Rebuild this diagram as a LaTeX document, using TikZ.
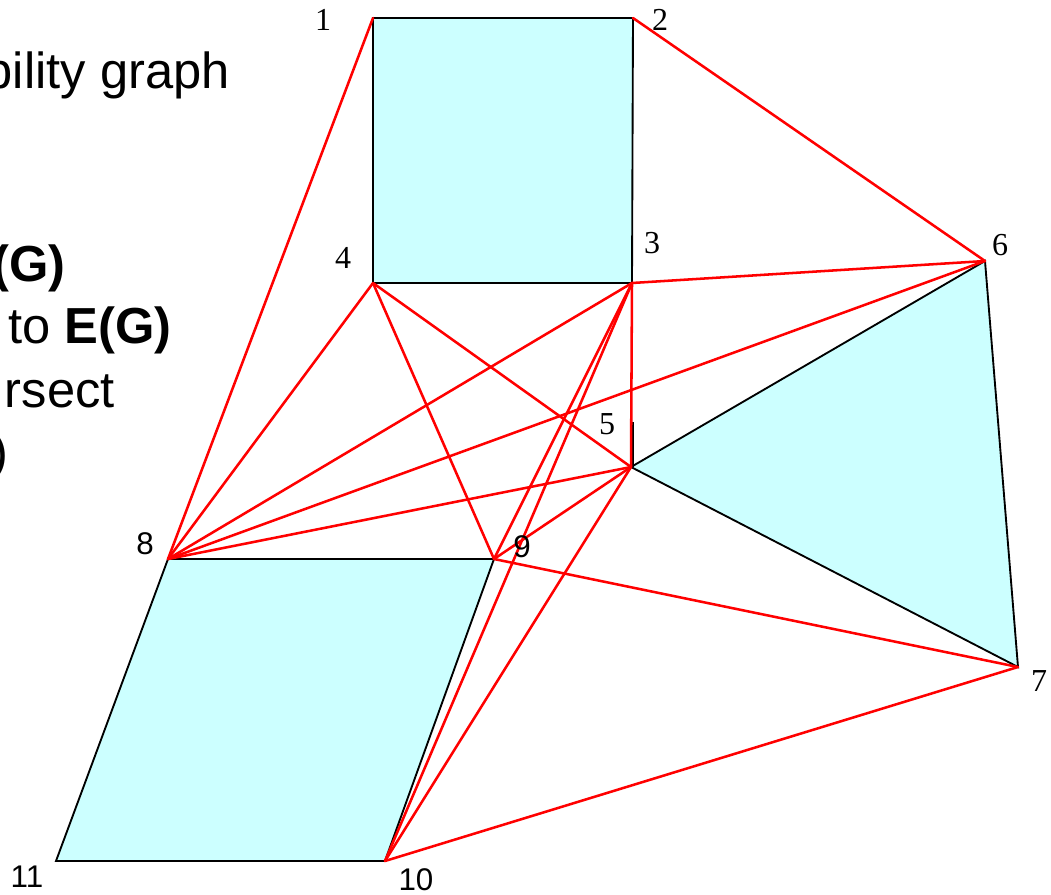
\documentclass[tikz,border=0pt]{standalone}
\usepackage{fontspec}
\setmainfont{Liberation Sans}
\newfontfamily\serifnum{Liberation Serif}
\definecolor{obst}{HTML}{CCFFFF}
\begin{document}
\begin{tikzpicture}[x=0.75pt,y=-0.75pt,
  obstacle/.style={fill=obst,draw=black,line width=1.4pt,line join=miter},
  visedge/.style={draw=red,line width=1.9pt,line cap=round},
  slabel/.style={inner sep=0pt,font=\serifnum\fontsize{24}{26}\selectfont},
  alabel/.style={inner sep=0pt,font=\fontsize{23.5}{25}\selectfont},
  bodytext/.style={inner sep=0pt,anchor=base east,font=\fontsize{38}{42}\selectfont}]
\useasboundingbox (0,0) rectangle (1051,894);
\clip (0,0) rectangle (1051,894);
% vertices
\coordinate (v1) at (373,18);
\coordinate (v2) at (633,18);
\coordinate (v3) at (632,283);
\coordinate (v4) at (373,283);
\coordinate (v5) at (631,467);
\coordinate (v6) at (985,261);
\coordinate (v7) at (1018,667);
\coordinate (v8) at (168,559);
\coordinate (v9) at (494,559);
\coordinate (v10) at (385,861);
\coordinate (v11) at (56,861);
\coordinate (v5t) at (633,422);
\coordinate (v5b) at (633,467);
% left text (cut off slide text)
\node[bodytext] (t1) at (230,88) {bility graph};
\node[bodytext] (t2) at (66,281) {\textbf{(G)}};
\node[bodytext] (t3) at (172,343) {to \textbf{E(G)}};
\node[bodytext] (t4) at (115,407) {rsect};
\node[bodytext] (t5) at (9,469) {)};
% obstacles
\draw[obstacle] (v1) -- (v2) -- (v3) -- (v4) -- cycle;
\draw[obstacle] (v5) -- (v6) -- (v7) -- cycle;
\draw[obstacle] (v8) -- (v9) -- (v10) -- (v11) -- cycle;
\draw[black,line width=1.4pt] (v5t) -- (v5b);
% visibility edges
\draw[visedge] (v1) -- (v8);
\draw[visedge] (v2) -- (v6);
\draw[visedge] (v3) -- (v6);
\draw[visedge] (v3) -- (v8);
\draw[visedge] (v3) -- (v5);
\draw[visedge] (v3) -- (v9);
\draw[visedge] (v3) -- (v10);
\draw[visedge] (v4) -- (v8);
\draw[visedge] (v4) -- (v9);
\draw[visedge] (v4) -- (v5);
\draw[visedge] (v5) -- (v8);
\draw[visedge] (v5) -- (v9);
\draw[visedge] (v5) -- (v10);
\draw[visedge] (v6) -- (v8);
\draw[visedge] (v7) -- (v9);
\draw[visedge] (v7) -- (v10);
% labels
\node[slabel] (l1) at (323,20) {1};
\node[slabel] (l2) at (660,20) {2};
\node[slabel] (l3) at (652,243) {3};
\node[slabel] (l4) at (343,258) {4};
\node[slabel] (l5) at (607,424) {5};
\node[slabel] (l6) at (1000,245) {6};
\node[slabel] (l7) at (1039,681) {7};
\node[alabel] (l8) at (145,544) {8};
\node[alabel] (l9) at (522,547) {9};
\node[alabel] (l10) at (416,880) {10};
\node[alabel] (l11) at (27,877) {11};
\end{tikzpicture}
\end{document}
